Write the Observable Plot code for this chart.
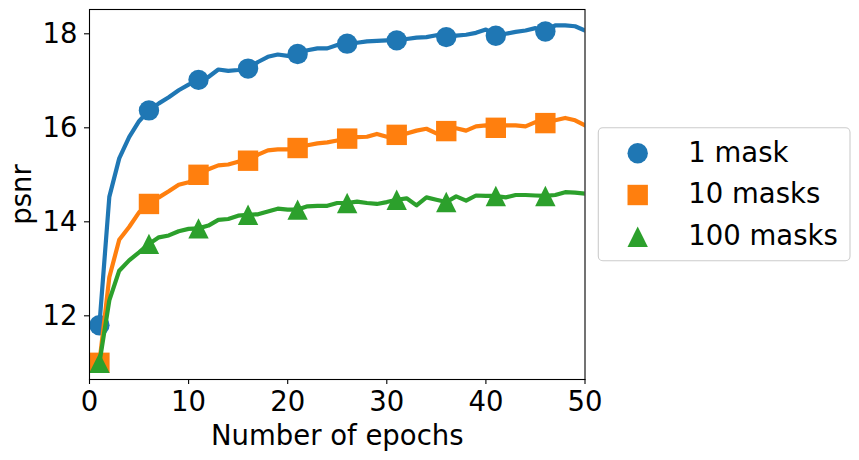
<!DOCTYPE html>
<html><head><meta charset="utf-8">
<script src="https://cdn.jsdelivr.net/npm/d3@7"></script>
<script src="https://cdn.jsdelivr.net/npm/@observablehq/plot@0.6"></script>
<style>
body{margin:0;background:#fff;}
#wrap{position:relative;width:859px;height:460px;font-family:"DejaVu Sans",sans-serif;}
#legend{position:absolute;left:0;top:0;pointer-events:none;}
</style></head><body><div id="wrap"></div>
<script>
const epochs = [1,2,3,4,5,6,7,8,9,10,11,12,13,14,15,16,17,18,19,20,21,22,23,24,25,26,27,28,29,30,31,32,33,34,35,36,37,38,39,40,41,42,43,44,45,46,47,48,49,50];
const psnr1mask = [11.80,14.53,15.35,15.80,16.14,16.37,16.52,16.65,16.80,16.92,17.02,17.08,17.24,17.21,17.23,17.26,17.40,17.51,17.56,17.53,17.57,17.65,17.69,17.69,17.76,17.79,17.81,17.84,17.85,17.86,17.86,17.89,17.92,17.93,17.97,17.93,17.96,17.98,18.02,18.09,17.96,18.00,18.04,18.07,18.12,18.05,18.18,18.18,18.16,18.07];
const psnr10masks = [11.00,12.82,13.62,13.89,14.20,14.38,14.52,14.65,14.79,14.84,15.00,15.12,15.20,15.22,15.28,15.30,15.43,15.52,15.54,15.54,15.57,15.63,15.67,15.69,15.73,15.77,15.80,15.81,15.87,15.81,15.85,15.88,15.94,15.98,15.88,15.93,15.99,15.94,16.03,16.05,16.00,16.05,16.05,16.03,16.12,16.10,16.16,16.21,16.16,16.05];
const psnr100masks = [11.00,12.33,12.96,13.18,13.35,13.53,13.67,13.71,13.80,13.85,13.86,13.92,14.04,14.06,14.13,14.15,14.16,14.22,14.28,14.26,14.26,14.33,14.34,14.34,14.40,14.40,14.43,14.40,14.38,14.42,14.47,14.50,14.35,14.52,14.47,14.42,14.54,14.45,14.56,14.55,14.55,14.52,14.57,14.57,14.56,14.55,14.57,14.63,14.62,14.60];
const seriesNames = ["1 mask","10 masks","100 masks"];
const seriesColors = ["#1f77b4","#ff7f0e","#2ca02c"];
const seriesShapes = ["circle","square","triangle"];
const markerEpochs = [1,6,11,16,21,26,31,36,41,46];
const xTicks = [0,10,20,30,40,50];
const yTicks = [12,14,16,18];
const xLabel = "Number of epochs";
const yLabel = "psnr";

const seriesValues = [psnr1mask, psnr10masks, psnr100masks];

function mplSymbol(kind){
  return {draw(ctx, size){
    const r = Math.sqrt(size/Math.PI);
    if(kind==="circle"){ctx.moveTo(r,0);ctx.arc(0,0,r,0,2*Math.PI);}
    else if(kind==="square"){ctx.moveTo(-r,-r);ctx.lineTo(r,-r);ctx.lineTo(r,r);ctx.lineTo(-r,r);ctx.closePath();}
    else {ctx.moveTo(0,-r);ctx.lineTo(-r,r);ctx.lineTo(r,r);ctx.closePath();}
  }};
}
const MR = 10.2;

const rows = [];
seriesValues.forEach((vals,i)=>vals.forEach((v,j)=>rows.push({series:seriesNames[i], epoch:epochs[j], psnr:v})));

const dataMarks = [];
seriesNames.forEach((name,i)=>{
  const d = rows.filter(r=>r.series===name);
  dataMarks.push(Plot.line(d,{x:"epoch",y:"psnr",stroke:seriesColors[i],strokeWidth:4.2,strokeLinejoin:"round",clip:true}));
  dataMarks.push(Plot.dot(d.filter(r=>markerEpochs.includes(r.epoch)),{x:"epoch",y:"psnr",fill:seriesColors[i],stroke:"none",r:MR,symbol:mplSymbol(seriesShapes[i])}));
});

const chart = Plot.plot({
  width:859, height:460,
  marginLeft:89, marginRight:274.5, marginTop:9, marginBottom:81,
  style:{fontFamily:"DejaVu Sans", fontSize:"27.5px", color:"black", background:"white", overflow:"visible"},
  x:{domain:[0,50]},
  y:{domain:[10.645,18.517]},
  marks:[
    Plot.axisX({ticks:xTicks, tickSize:5, tickPadding:7, strokeWidth:1.1, label:xLabel, labelAnchor:"center", labelOffset:65, labelArrow:"none"}),
    Plot.axisY({ticks:yTicks, tickSize:5, tickPadding:7, strokeWidth:1.1, label:yLabel, labelAnchor:"center", labelOffset:78, labelArrow:"none"}),
    ...dataMarks,
    Plot.frame({stroke:"black", strokeWidth:1.1})
  ]
});
const wrap = document.getElementById("wrap");
wrap.appendChild(chart);

// legend overlay
const lg = d3.select(wrap).append("svg").attr("id","legend").attr("width",859).attr("height",460);
lg.append("rect").attr("x",598.3).attr("y",127.7).attr("width",251.7).attr("height",133).attr("rx",4.5)
  .attr("fill","white").attr("fill-opacity",0.8).attr("stroke","#cccccc").attr("stroke-width",1.1);
const rowY = [153.3,195,236.7];
seriesNames.forEach((name,i)=>{
  lg.append("path").attr("transform",`translate(637.7,${rowY[i]})`)
    .attr("d", d3.symbol().type(mplSymbol(seriesShapes[i])).size(Math.PI*MR*MR)())
    .attr("fill",seriesColors[i]);
  lg.append("text").attr("x",688.3).attr("y",rowY[i]+8.4)
    .attr("font-family","DejaVu Sans").attr("font-size","27.5px").attr("fill","black").text(name);
});
</script></body></html>
